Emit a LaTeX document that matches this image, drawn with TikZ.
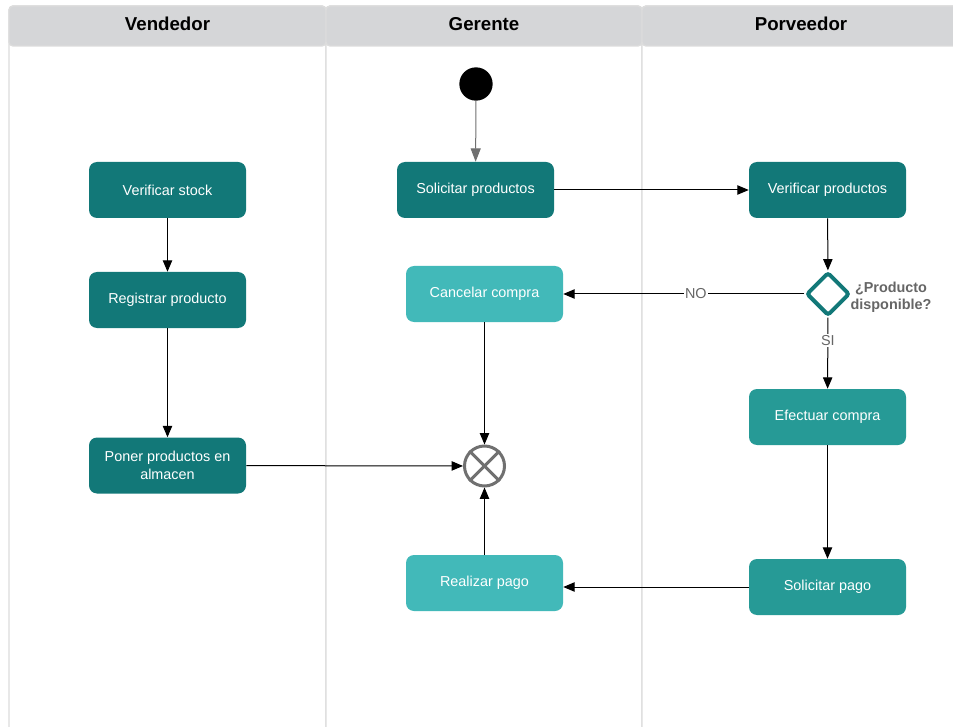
\documentclass[tikz,border=0pt]{standalone}
\usepackage{fontspec}
\setmainfont{Liberation Sans}
\usetikzlibrary{arrows.meta,shapes.geometric}
\definecolor{tealdark}{HTML}{127878}
\definecolor{tealmid}{HTML}{269A96}
\definecolor{teallight}{HTML}{42B9B9}
\definecolor{headgray}{HTML}{D5D6D8}
\definecolor{laneline}{HTML}{DCDCDC}
\definecolor{textgray}{HTML}{666666}
\definecolor{markgray}{HTML}{707070}
\tikzset{
  lane/.style={draw=laneline, line width=1pt, fill=white, rounded corners=3pt},
  lanehead/.style={draw=laneline, line width=1pt, fill=headgray, rounded corners=3pt},
  headtext/.style={font=\fontsize{14}{16}\selectfont\bfseries, text=black},
  activity/.style={rectangle, rounded corners=6pt, minimum width=117.75pt, minimum height=42pt,
    inner sep=2pt, text=white, align=center, font=\fontsize{10.8}{13.5}\selectfont},
  actdark/.style={activity, fill=tealdark},
  actmid/.style={activity, fill=tealmid},
  actlight/.style={activity, fill=teallight},
  flow/.style={draw=black, line width=0.75pt, -{Triangle[length=8.5pt,width=7pt]}},
  lbl/.style={fill=white, inner sep=1pt, text=textgray, font=\fontsize{10.8}{13}\selectfont},
}
\begin{document}
\begin{tikzpicture}[x=0.75pt,y=-0.75pt]
\useasboundingbox (0,0) rectangle (953,727);
\clip (0,0) rectangle (953,727);

% swimlanes
\draw[lane] (9,6) rectangle (326,740);
\draw[lane] (326,6) rectangle (642,740);
\draw[lane] (642,6) rectangle (962,740);
\draw[lanehead] (9,6) rectangle (326,46);
\draw[lanehead] (326,6) rectangle (642,46);
\draw[lanehead] (642,6) rectangle (962,46);
\node[headtext, anchor=base] (h1) at (167.5,31) {Vendedor};
\node[headtext, anchor=base] (h2) at (484,31) {Gerente};
\node[headtext, anchor=base] (h3) at (801,31) {Porveedor};

% start and end
\node[circle, fill=black, minimum size=25pt, inner sep=0pt] (start) at (476,84) {};
\node[circle, draw=markgray, line width=2.25pt, fill=white, minimum size=30pt, inner sep=0pt] (end) at (484.5,466) {};
\draw[markgray, line width=2.25pt] (end.north west) -- (end.south east);
\draw[markgray, line width=2.25pt] (end.north east) -- (end.south west);

% activities
\node[actdark] (vs) at (167.5,190) {Verificar stock};
\node[actdark] (rp) at (167.5,300) {Registrar producto};
\node[actdark] (pp) at (167.5,465.5) {Poner productos en\\almacen};
\node[actdark] (sp) at (475.5,190) {Solicitar productos};
\node[actlight] (cc) at (484.5,294) {Cancelar compra};
\node[actlight] (rpg) at (484.5,583) {Realizar pago};
\node[actdark] (vp) at (827.5,190) {Verificar productos};
\node[actmid] (ec) at (827.5,417) {Efectuar compra};
\node[actmid] (spg) at (827.5,587) {Solicitar pago};

% decision
\node[diamond, draw=tealdark, fill=white, line width=3pt, rounded corners=2pt,
      minimum width=32.5pt, minimum height=32.5pt, inner sep=0pt] (dec) at (828,294) {};
\node[font=\fontsize{10.8}{12.5}\selectfont\bfseries, text=textgray, align=center] (q) at (891,297) {¿Producto\\disponible?};

% flows
\draw[flow, draw=markgray, -{Triangle[length=10pt,width=7.5pt]}, markgray] (start) -- (sp);
\draw[flow] (sp) -- (vp);
\draw[flow] (vp) -- (dec);
\draw[flow] (dec) -- node[lbl, pos=0.45] {NO} (cc);
\draw[flow] (dec) -- node[lbl, pos=0.32] {SI} (ec);
\draw[flow] (ec) -- (spg);
\draw[flow] (spg.west) -- (spg.west -| rpg.east);
\draw[flow] (rpg) -- (end);
\draw[flow] (cc) -- (end);
\draw[flow] (pp) -- (end);
\draw[flow] (vs) -- (rp);
\draw[flow] (rp) -- (pp);
\end{tikzpicture}
\end{document}
